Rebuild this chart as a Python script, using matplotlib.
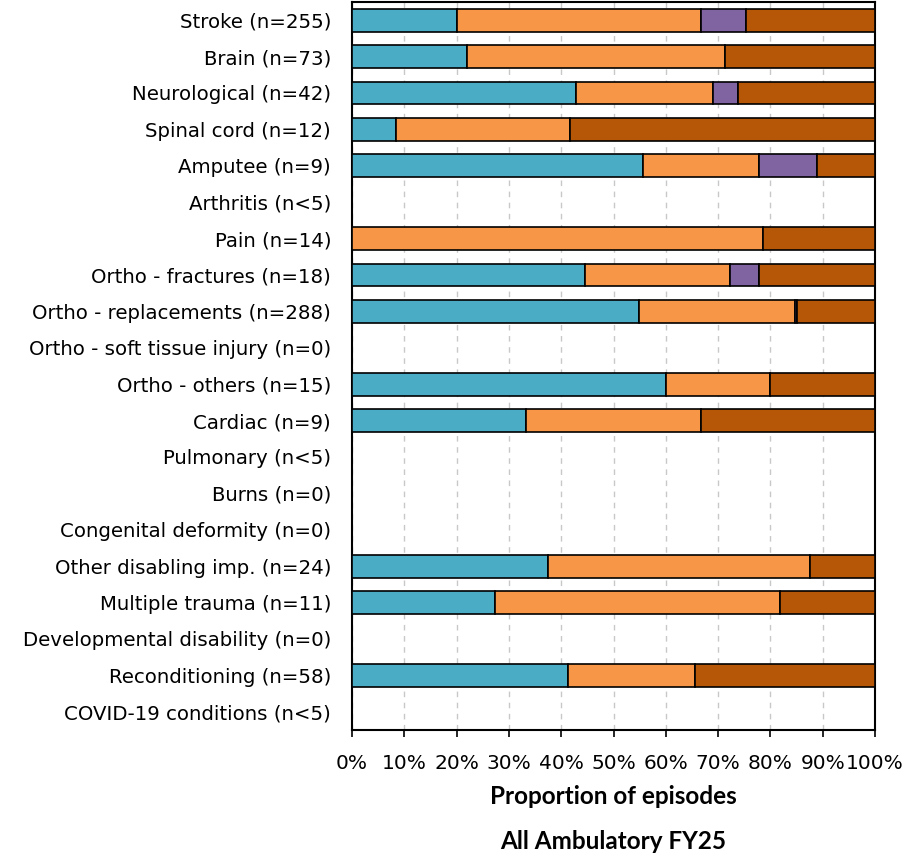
import numpy as np
import matplotlib.pyplot as plt
from matplotlib.ticker import PercentFormatter

# Categories (top to bottom) and episode counts per outcome group
categorias = [
    "Stroke (n=255)", "Brain (n=73)", "Neurological (n=42)", "Spinal cord (n=12)",
    "Amputee (n=9)", "Arthritis (n<5)", "Pain (n=14)", "Ortho - fractures (n=18)",
    "Ortho - replacements (n=288)", "Ortho - soft tissue injury (n=0)",
    "Ortho - others (n=15)", "Cardiac (n=9)", "Pulmonary (n<5)", "Burns (n=0)",
    "Congenital deformity (n=0)", "Other disabling imp. (n=24)",
    "Multiple trauma (n=11)", "Developmental disability (n=0)",
    "Reconditioning (n=58)", "COVID-19 conditions (n<5)",
]
grupo_1 = [51, 16, 18, 1, 5, 0, 0, 8, 158, 0, 9, 3, 0, 0, 0, 9, 3, 0, 24, 0]
grupo_2 = [119, 36, 11, 4, 2, 0, 11, 5, 86, 0, 3, 3, 0, 0, 0, 12, 6, 0, 14, 0]
grupo_3 = [22, 0, 2, 0, 1, 0, 0, 1, 1, 0, 0, 0, 0, 0, 0, 0, 0, 0, 0, 0]
grupo_4 = [63, 21, 11, 7, 1, 0, 3, 4, 43, 0, 3, 3, 0, 0, 0, 3, 2, 0, 20, 0]

colores = ["#4BACC6", "#F79646", "#8064A2", "#B65708"]

plt.rcParams['font.family'] = ['DejaVu Sans']

datos = np.array([grupo_1, grupo_2, grupo_3, grupo_4], dtype=float)
totales = datos.sum(axis=0)
totales[totales == 0] = 1
proporciones = datos / totales

fig = plt.figure(figsize=(9.23, 8.59), dpi=100)
ax = fig.add_axes([0.3814, 0.1502, 0.5667, 0.8475])

y = np.arange(len(categorias))
izquierda = np.zeros(len(categorias))
for fila, color in zip(proporciones, colores):
    ancho = np.where(fila > 0, fila, np.nan)
    ax.barh(y, ancho, left=izquierda, height=0.63, color=color,
            edgecolor="black", linewidth=1.2, zorder=3)
    izquierda += fila

ax.set_xlim(0, 1)
ax.set_ylim(len(categorias) - 0.5, -0.5)
ax.set_yticks(y)
ax.set_yticklabels(categorias, fontsize=14.2)
ax.tick_params(axis='y', length=0, pad=15)
ax.set_xticks(np.linspace(0, 1, 11))
ax.xaxis.set_major_formatter(PercentFormatter(1.0, decimals=0))
ax.tick_params(axis='x', labelsize=14.5, length=5, width=1.2, pad=12)
ax.grid(axis='x', linestyle=(0, (4, 4)), color="#c8c8c8", linewidth=1, zorder=0)
for s in ax.spines.values():
    s.set_linewidth(1.5)

ax.set_xlabel("Proportion of episodes", fontsize=17.5, fontweight='bold',
              family=['Lato', 'DejaVu Sans'], labelpad=9)
fig.text(0.5667 / 2 + 0.3814, 0.007, "All Ambulatory FY25", fontsize=17.5,
         fontweight='bold', family=['Lato', 'DejaVu Sans'], ha='center', va='bottom')

fig.savefig("out.png", dpi=100)
